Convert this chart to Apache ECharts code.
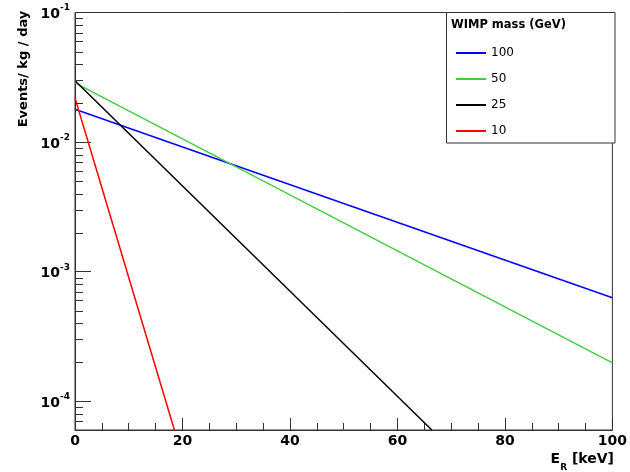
<!DOCTYPE html>
<html>
<head>
<meta charset="utf-8">
<script src="https://cdn.jsdelivr.net/npm/echarts@6/dist/echarts.min.js"></script>
<style>
html,body{margin:0;padding:0;background:#fff;}
#chart{width:630px;height:472px;}
</style>
</head>
<body>
<div id="chart"></div>
<script>
// ---- data ----
const massLabels = ['100', '50', '25', '10'];
const lineColors = ['#0000ff', '#44cc44', '#000000', '#ff0000'];
const energy100 = [0, 100];
const rate100 = [0.0179, 0.00063];
const energy50 = [0, 100];
const rate50 = [0.0286, 0.000198];
const energy25 = [0, 66.4];
const rate25 = [0.0297, 0.00006];
const energy10 = [0, 18.5];
const rate10 = [0.0219, 0.00006];
const xTickLabels = ['0', '20', '40', '60', '80', '100'];
const yMin = 6e-5, yMax = 0.1;
const yMinorTickValues = [7e-5, 8e-5, 9e-5,
  2e-4, 3e-4, 4e-4, 5e-4, 6e-4, 7e-4, 8e-4, 9e-4,
  2e-3, 3e-3, 4e-3, 5e-3, 6e-3, 7e-3, 8e-3, 9e-3,
  2e-2, 3e-2, 4e-2, 5e-2, 6e-2, 7e-2, 8e-2, 9e-2];

const energies = [energy100, energy50, energy25, energy10];
const rates = [rate100, rate50, rate25, rate10];

const FONT = 'DejaVu Sans';
const chart = echarts.init(document.getElementById('chart'), null, {renderer: 'canvas'});

const lineSeries = massLabels.map((name, i) => ({
  name: name,
  type: 'line',
  data: energies[i].map((x, j) => [x, rates[i][j]]),
  symbol: 'none',
  showSymbol: false,
  clip: true,
  lineStyle: {color: lineColors[i], width: 1.5},
  itemStyle: {color: lineColors[i]},
  z: 3,
  animation: false
}));

const minorTickSeries = {
  type: 'custom',
  coordinateSystem: 'cartesian2d',
  data: yMinorTickValues.map(v => [0, v]),
  encode: {x: 0, y: 1},
  silent: true,
  clip: false,
  z: 4,
  animation: false,
  renderItem: function (params, api) {
    const p = api.coord([0, api.value(1)]);
    const y = Math.round(p[1]) + 0.5;
    return {
      type: 'line',
      shape: {x1: p[0], y1: y, x2: p[0] + 8, y2: y},
      style: {stroke: '#333', lineWidth: 1}
    };
  }
};

chart.setOption({
  animation: false,
  backgroundColor: '#fff',
  grid: {
    left: 75, right: 15, top: 12.5, bottom: 42,
    show: true, borderColor: '#333', borderWidth: 1, backgroundColor: 'transparent'
  },
  xAxis: {
    type: 'value', min: 0, max: 100, interval: 20,
    axisLine: {show: true, onZero: false, lineStyle: {color: '#333', width: 1}},
    axisTick: {show: true, inside: true, length: 12, lineStyle: {color: '#333'}},
    minorTick: {show: true, splitNumber: 4, length: 7, lineStyle: {color: '#333'}},
    splitLine: {show: false},
    axisLabel: {
      margin: 4,
      fontFamily: FONT, fontWeight: 'bold', fontSize: 14, color: '#000',
      formatter: function (v) { const s = String(Math.round(v)); return xTickLabels.indexOf(s) >= 0 ? s : ''; }
    }
  },
  yAxis: {
    type: 'log', logBase: 10, min: yMin, max: yMax,
    axisLine: {show: true, onZero: false, lineStyle: {color: '#333', width: 1}},
    axisTick: {show: true, inside: true, length: 16, lineStyle: {color: '#333'}},
    splitLine: {show: false},
    axisLabel: {
      margin: 5,
      formatter: function (v) {
        const e = Math.log10(v);
        const n = Math.round(e);
        if (Math.abs(e - n) > 1e-6) return '';
        return '{b|10}{s|' + n + '}';
      },
      rich: {
        b: {fontFamily: FONT, fontWeight: 'bold', fontSize: 14, color: '#000', lineHeight: 18, verticalAlign: 'bottom'},
        s: {fontFamily: FONT, fontWeight: 'bold', fontSize: 9, color: '#000', lineHeight: 10, verticalAlign: 'top'}
      }
    }
  },
  legend: {
    data: massLabels,
    orient: 'vertical',
    left: 451, top: 40,
    icon: 'rect', itemWidth: 30, itemHeight: 2, itemGap: 10,
    selectedMode: false,
    textStyle: {fontFamily: FONT, fontSize: 12, color: '#000', lineHeight: 16}
  },
  graphic: [
    {
      type: 'rect', z: 1,
      shape: {x: 446.5, y: 12.5, width: 168.5, height: 130.5},
      style: {fill: '#fff', stroke: '#333', lineWidth: 1}
    },
    {
      type: 'text', z: 5, left: 451, top: 19,
      style: {text: 'WIMP mass (GeV)', font: 'bold 11.5px "DejaVu Sans"', fill: '#000'}
    },
    {
      type: 'text', z: 5,
      x: 24, y: 69, rotation: Math.PI / 2,
      style: {text: 'Events/ kg / day', font: 'bold 13px "DejaVu Sans"', fill: '#000', align: 'center', verticalAlign: 'middle'}
    },
    {
      type: 'text', z: 5,
      x: 614, y: 462,
      style: {
        text: '{a|E}{r|R}{a| [keV]}',
        align: 'right', verticalAlign: 'middle',
        rich: {
          a: {fontFamily: FONT, fontWeight: 'bold', fontSize: 14, fill: '#000', lineHeight: 20, verticalAlign: 'top'},
          r: {fontFamily: FONT, fontWeight: 'bold', fontSize: 9, fill: '#000', lineHeight: 12, verticalAlign: 'bottom'}
        }
      }
    }
  ],
  series: lineSeries.concat([minorTickSeries])
});
</script>
</body>
</html>
